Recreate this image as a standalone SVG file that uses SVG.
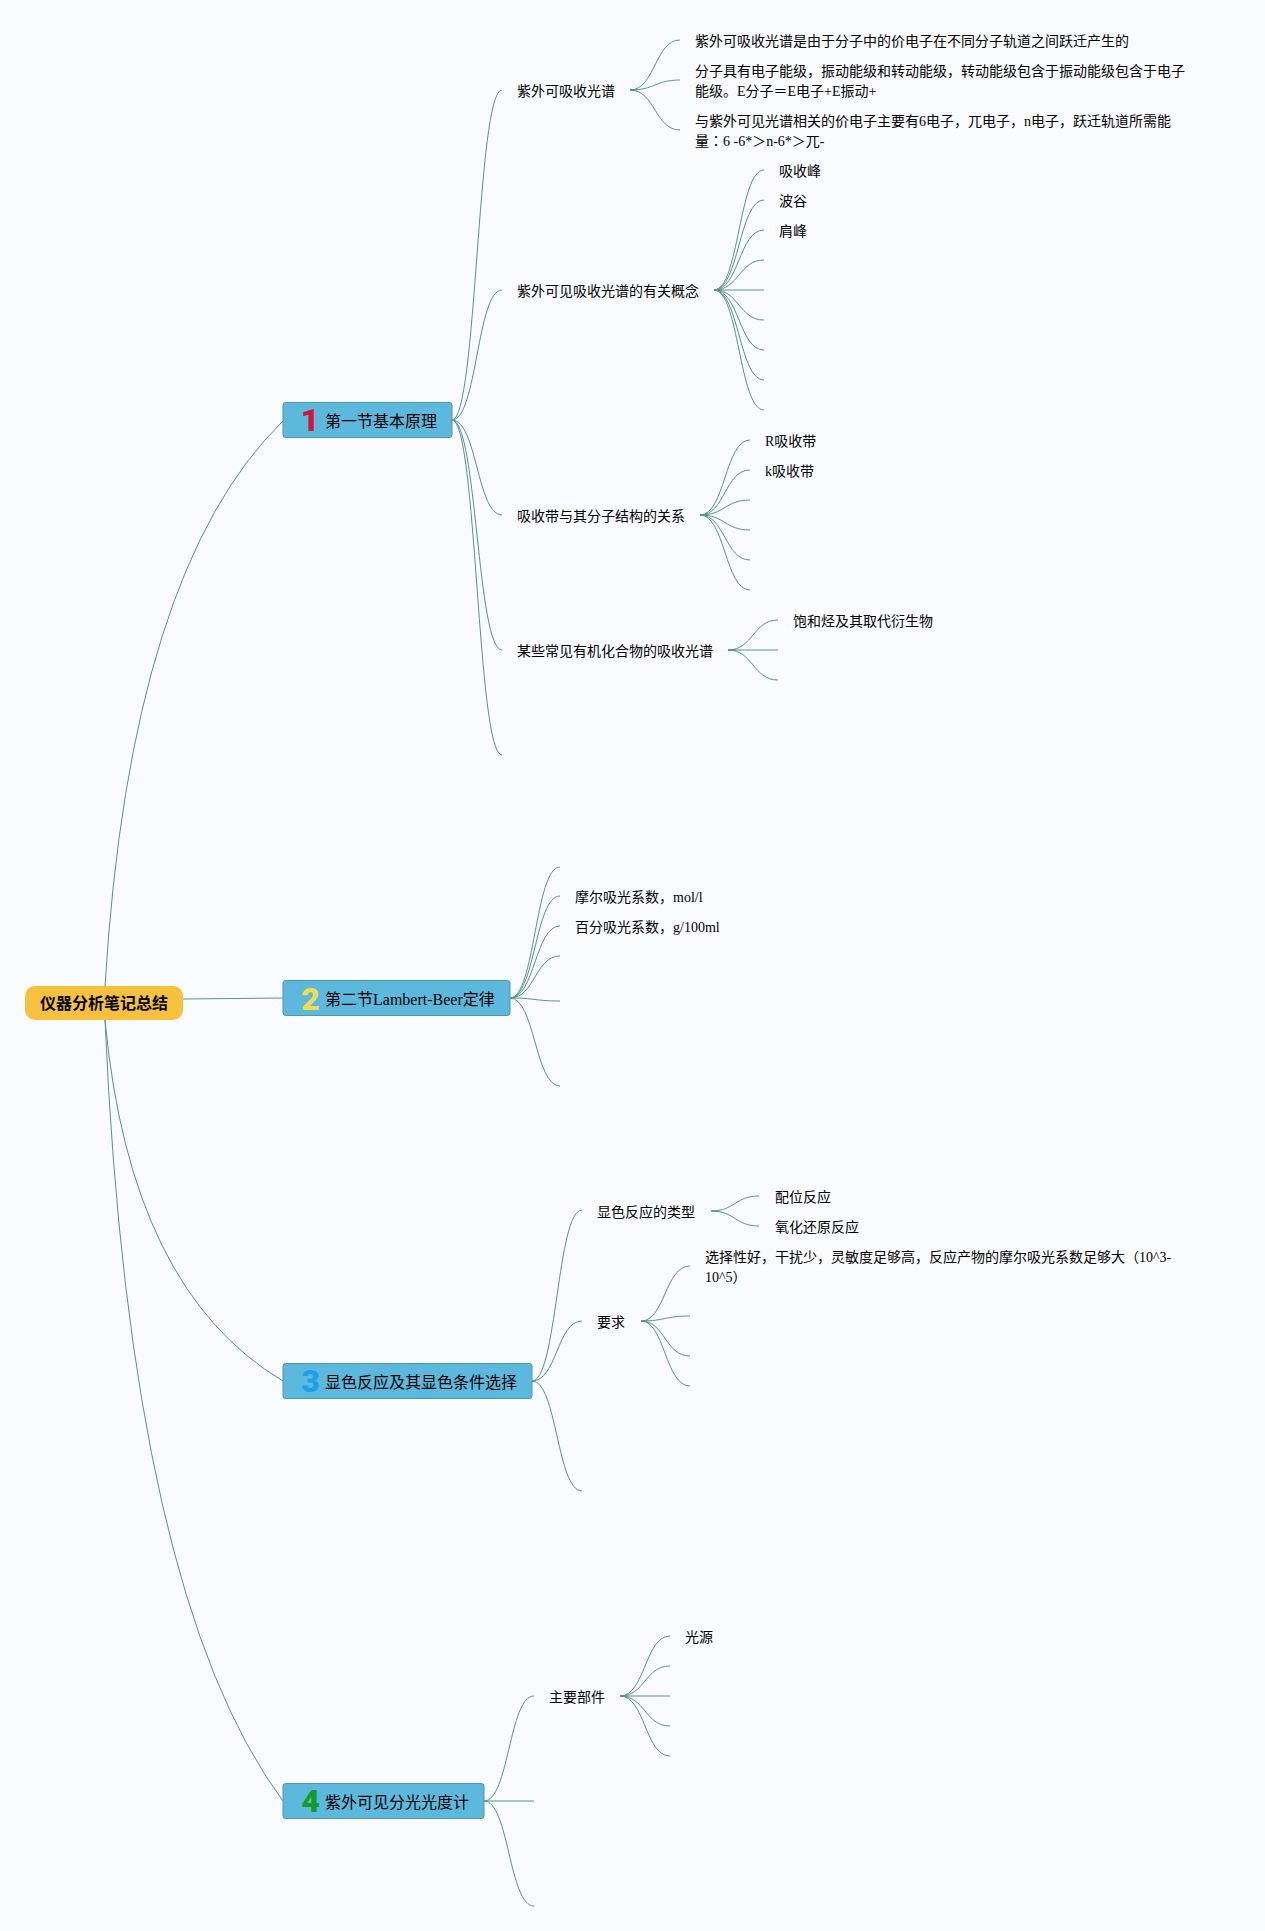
<svg xmlns="http://www.w3.org/2000/svg" width="1265" height="1931" viewBox="0 0 1265 1931">
<style>
text{font-family:"Liberation Serif","Noto Sans CJK SC",serif;fill:#000}
.t{font-size:14px}
.m{font-size:16px}
.r{font-size:16px;font-weight:700}
.n{font-family:"Roboto",sans-serif;font-size:32px;font-weight:900;text-anchor:middle}
.b{fill:#5cb8dc;stroke:#4f9aa0;stroke-width:1}
#connectors path{fill:none;stroke:#55958c;stroke-width:1}
</style>
<rect width="1265" height="1931" fill="#f9fbff"/>
<g id="connectors">
<path d="M105,986Q130,570 283,421"/>
<path d="M183,999L283,998"/>
<path d="M105,1020Q130,1290 283,1381"/>
<path d="M105,1020Q130,1595 283,1801"/>
<path d="M452,420C477,420 477,90 502,90"/>
<path d="M452,420C477,420 477,290 502,290"/>
<path d="M452,420C477,420 477,515 502,515"/>
<path d="M452,420C477,420 477,650 502,650"/>
<path d="M452,420C477,420 477,755 502,755"/>
<path d="M630,90H637M630,90C655,90 655,40 680,40"/>
<path d="M630,90C655,90 655,80 680,80"/>
<path d="M630,90C655,90 655,130 680,130"/>
<path d="M714,290H722M714,290C739,290 739,170 764,170"/>
<path d="M714,290C739,290 739,200 764,200"/>
<path d="M714,290C739,290 739,230 764,230"/>
<path d="M714,290C739,290 739,260 764,260"/>
<path d="M714,290L764,290"/>
<path d="M714,290C739,290 739,320 764,320"/>
<path d="M714,290C739,290 739,350 764,350"/>
<path d="M714,290C739,290 739,380 764,380"/>
<path d="M714,290C739,290 739,410 764,410"/>
<path d="M700,515H708M700,515C725,515 725,440 750,440"/>
<path d="M700,515C725,515 725,470 750,470"/>
<path d="M700,515C725,515 725,500 750,500"/>
<path d="M700,515C725,515 725,530 750,530"/>
<path d="M700,515C725,515 725,560 750,560"/>
<path d="M700,515C725,515 725,590 750,590"/>
<path d="M728,650H736M728,650C753,650 753,620 778,620"/>
<path d="M728,650L778,650"/>
<path d="M728,650C753,650 753,680 778,680"/>
<path d="M510,998C535,998 535,867 560,867"/>
<path d="M510,998C535,998 535,896 560,896"/>
<path d="M510,998C535,998 535,926 560,926"/>
<path d="M510,998C535,998 535,956 560,956"/>
<path d="M510,998C535,998 535,1001 560,1001"/>
<path d="M510,998C535,998 535,1086 560,1086"/>
<path d="M532,1381C557,1381 557,1210 582,1210"/>
<path d="M532,1381C557,1381 557,1321 582,1321"/>
<path d="M532,1381C557,1381 557,1491 582,1491"/>
<path d="M711,1211H717M711,1211C735,1211 735,1196 759,1196"/>
<path d="M711,1211C735,1211 735,1226 759,1226"/>
<path d="M641,1321H647M641,1321C665,1321 665,1266 690,1266"/>
<path d="M641,1321C665,1321 665,1316 690,1316"/>
<path d="M641,1321C665,1321 665,1356 690,1356"/>
<path d="M641,1321C665,1321 665,1386 690,1386"/>
<path d="M484,1801C509,1801 509,1696 534,1696"/>
<path d="M484,1801L534,1801"/>
<path d="M484,1801C509,1801 509,1906 534,1906"/>
<path d="M620,1696H628M620,1696C645,1696 645,1636 670,1636"/>
<path d="M620,1696C645,1696 645,1666 670,1666"/>
<path d="M620,1696L670,1696"/>
<path d="M620,1696C645,1696 645,1726 670,1726"/>
<path d="M620,1696C645,1696 645,1756 670,1756"/>
</g>
<g id="root"><rect x="25" y="986" width="158" height="34" rx="10" fill="#f6c13e"/><text class="r" x="40" y="1009">仪器分析笔记总结</text></g>
<g id="n1"><rect class="b" x="283" y="402.500" width="169" height="35" rx="2.500"/><text class="n" x="310" y="431" style="fill:#d0143c">1</text><text class="m" x="325" y="426.500">第一节基本原理</text></g>
<g id="n2"><rect class="b" x="283" y="980.500" width="227" height="35" rx="2.500"/><text class="n" x="310.500" y="1010" style="fill:#f0dc50">2</text><text class="m" x="325" y="1004.500">第二节Lambert-Beer定律</text></g>
<g id="n3"><rect class="b" x="283" y="1363.500" width="249" height="35" rx="2.500"/><text class="n" x="310.500" y="1392" style="fill:#1f9fe8">3</text><text class="m" x="325" y="1387.500">显色反应及其显色条件选择</text></g>
<g id="n4"><rect class="b" x="283" y="1783.500" width="201" height="35" rx="2.500"/><text class="n" x="310.500" y="1812" style="fill:#149c28">4</text><text class="m" x="325" y="1807.500">紫外可见分光光度计</text></g>
<g id="a1"><text class="t" x="517" y="96">紫外可吸收光谱</text></g>
<g id="a11"><text class="t" x="695" y="46">紫外可吸收光谱是由于分子中的价电子在不同分子轨道之间跃迁产生的</text></g>
<g id="a12"><text class="t" x="695" y="76">分子具有电子能级，振动能级和转动能级，转动能级包含于振动能级包含于电子</text><text class="t" x="695" y="96">能级。E分子＝E电子+E振动+</text></g>
<g id="a13"><text class="t" x="695" y="126">与紫外可见光谱相关的价电子主要有6电子，兀电子，n电子，跃迁轨道所需能</text><text class="t" x="695" y="146">量<tspan style="font-family:'Noto Sans CJK TC'">：</tspan>6 -6*＞n-6*＞兀-</text></g>
<g id="a2"><text class="t" x="517" y="296">紫外可见吸收光谱的有关概念</text></g>
<g id="a21"><text class="t" x="779" y="176">吸收峰</text></g>
<g id="a22"><text class="t" x="779" y="206">波谷</text></g>
<g id="a23"><text class="t" x="779" y="236">肩峰</text></g>
<g id="a3"><text class="t" x="517" y="521">吸收带与其分子结构的关系</text></g>
<g id="a31"><text class="t" x="765" y="446">R吸收带</text></g>
<g id="a32"><text class="t" x="765" y="476">k吸收带</text></g>
<g id="a4"><text class="t" x="517" y="656">某些常见有机化合物的吸收光谱</text></g>
<g id="a41"><text class="t" x="793" y="626">饱和烃及其取代衍生物</text></g>
<g id="b1"><text class="t" x="575" y="902">摩尔吸光系数，mol/l</text></g>
<g id="b2"><text class="t" x="575" y="932">百分吸光系数，g/100ml</text></g>
<g id="c1"><text class="t" x="597" y="1217">显色反应的类型</text></g>
<g id="c11"><text class="t" x="775" y="1202">配位反应</text></g>
<g id="c12"><text class="t" x="775" y="1232">氧化还原反应</text></g>
<g id="c2"><text class="t" x="597" y="1327">要求</text></g>
<g id="c21"><text class="t" x="705" y="1262">选择性好，干扰少，灵敏度足够高，反应产物的摩尔吸光系数足够大（10^3-</text><text class="t" x="705" y="1282">10^5）</text></g>
<g id="d1"><text class="t" x="549" y="1702">主要部件</text></g>
<g id="d11"><text class="t" x="685" y="1642">光源</text></g>
</svg>
